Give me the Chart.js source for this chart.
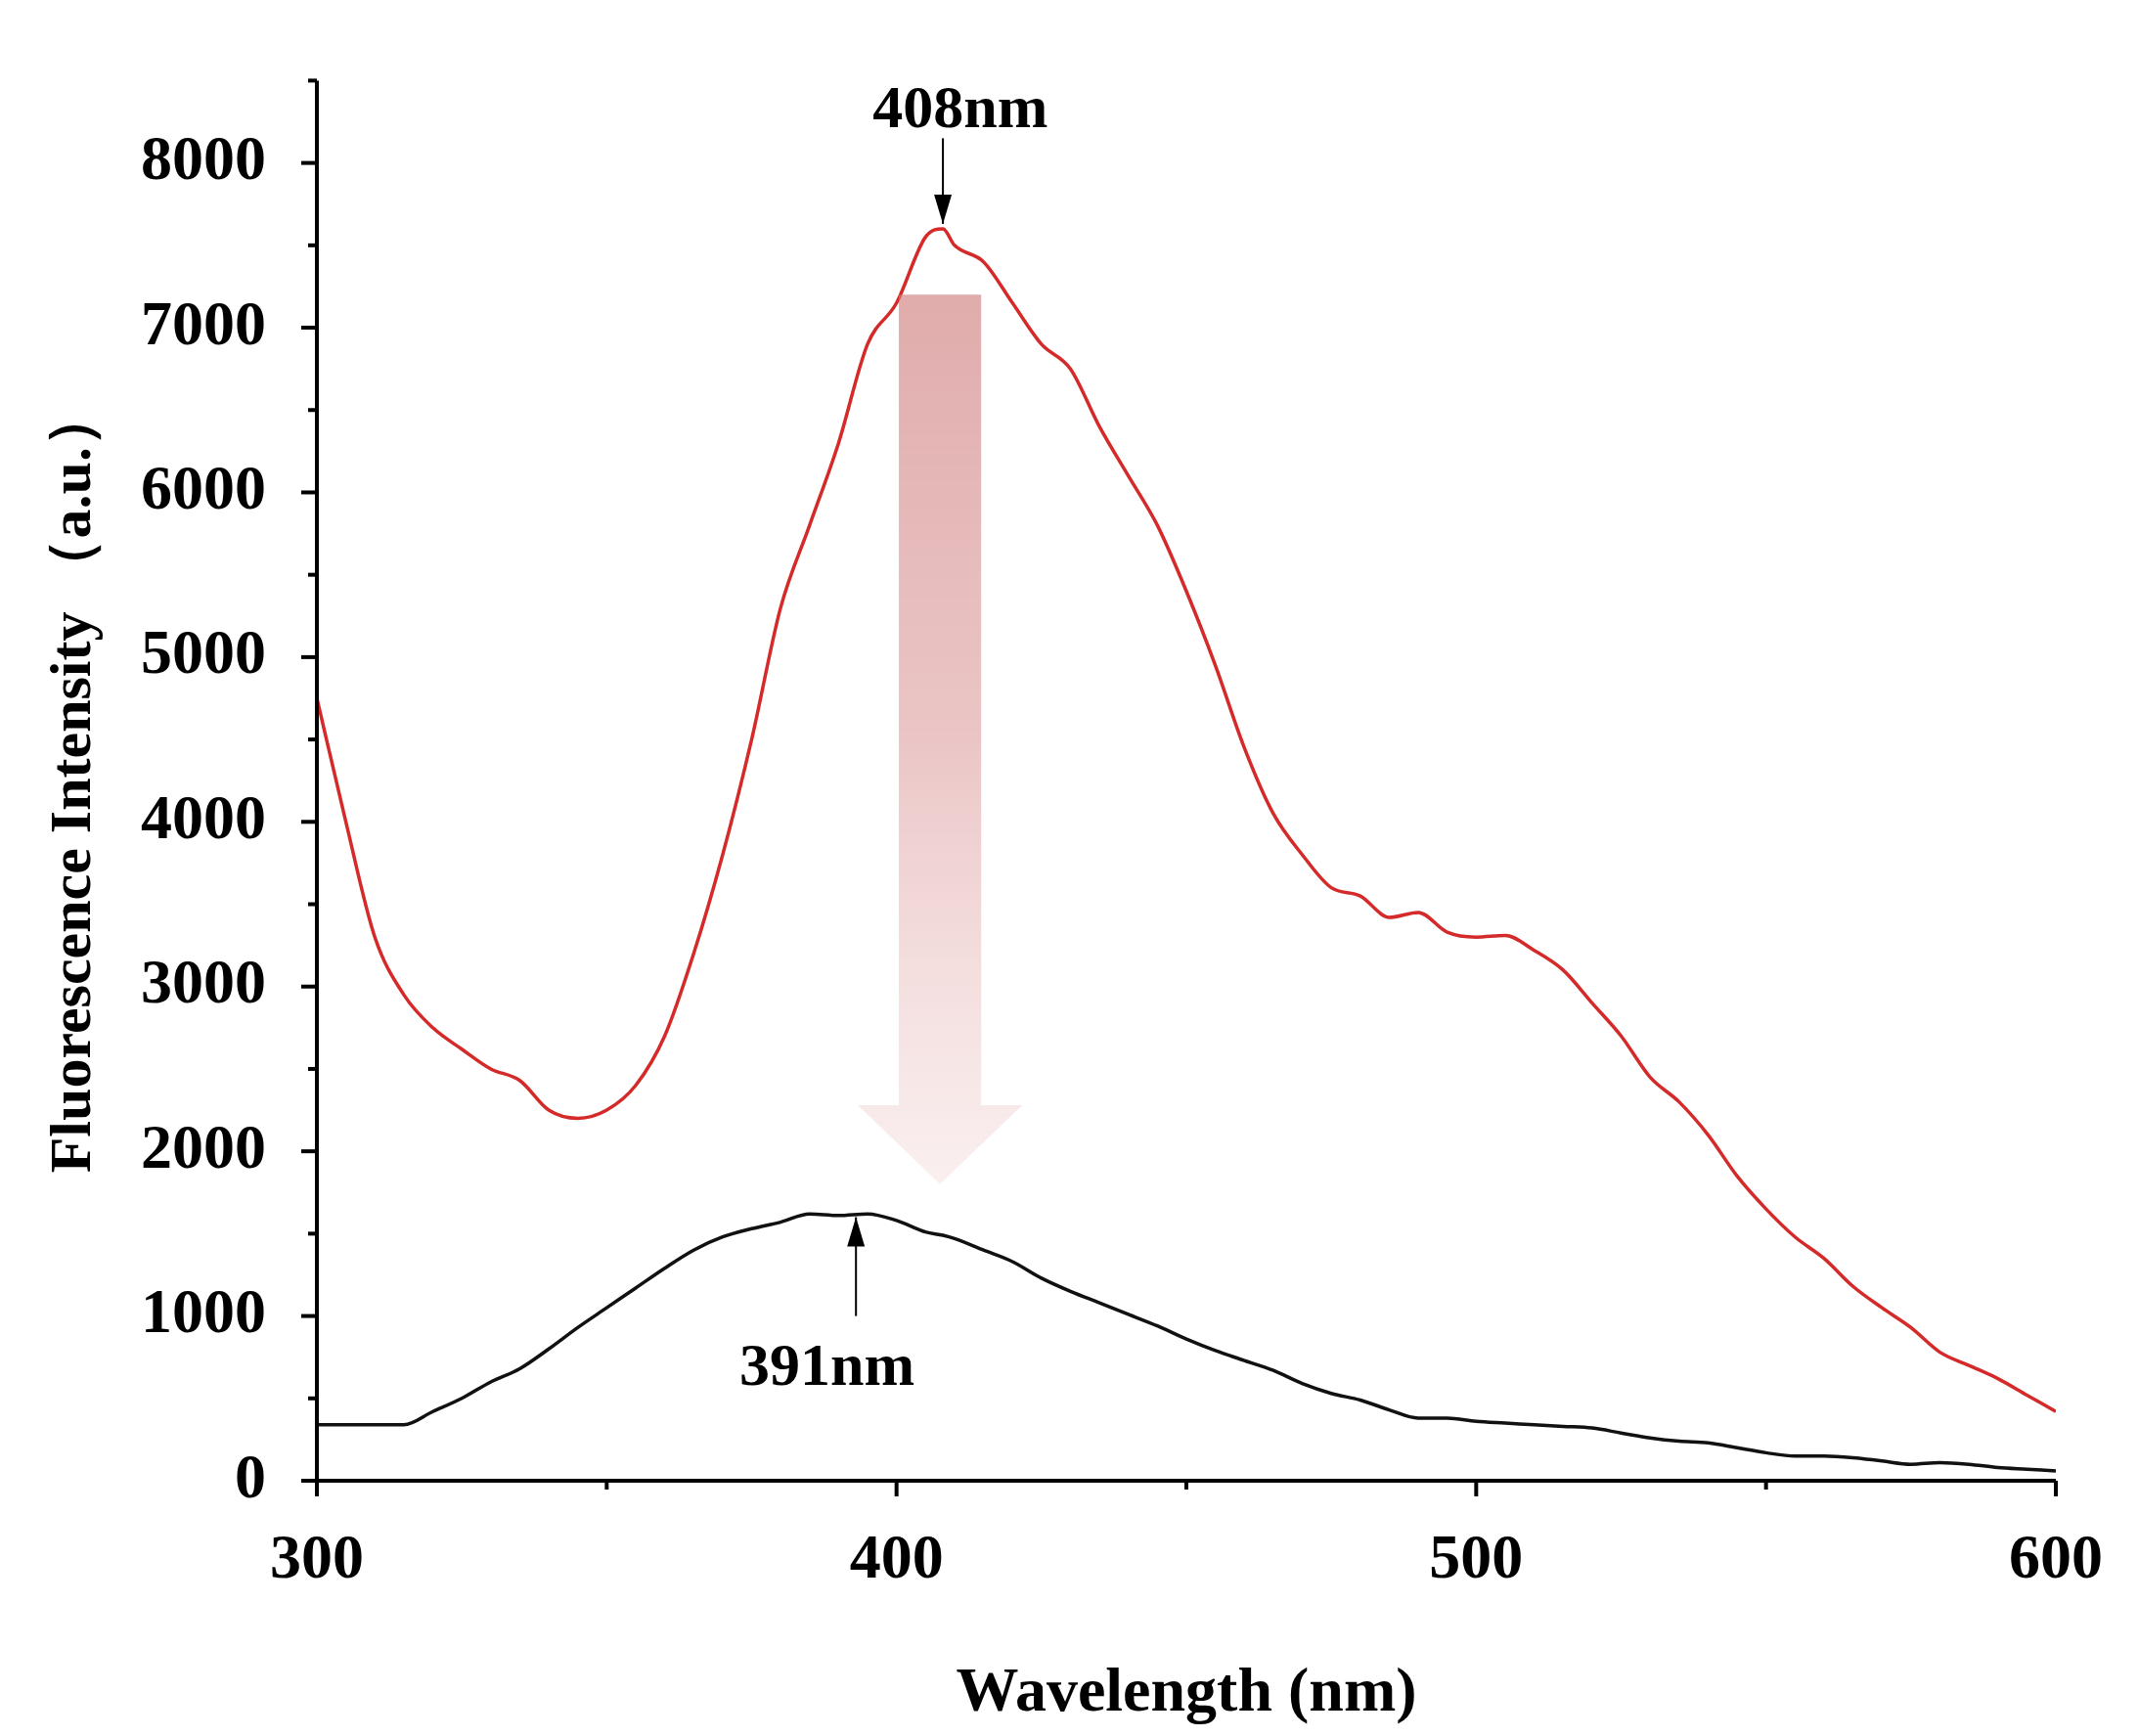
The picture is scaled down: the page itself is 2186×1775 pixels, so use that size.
<!DOCTYPE html>
<html><head><meta charset="utf-8">
<script src="https://cdn.jsdelivr.net/npm/chart.js@4"></script>
<style>html,body{margin:0;padding:0;background:#fff}#wrap{width:2186px;height:1775px}</style>
</head><body><div id="wrap"><canvas id="c"></canvas></div>
<script>
const wavelengths=[300,305,310,315,320,325,330,335,340,345,350,355,360,365,370,375,380,385,390,395,400,405,408,410,415,420,425,430,435,440,445,450,455,460,465,470,475,480,485,490,495,500,505,510,515,520,525,530,535,540,545,550,555,560,565,570,575,580,585,590,595,600];
const redSeries=[4750,4000,3300,2950,2750,2620,2500,2430,2250,2200,2250,2400,2700,3200,3800,4500,5300,5800,6300,6900,7150,7550,7600,7500,7400,7150,6900,6750,6400,6100,5800,5400,4950,4450,4050,3800,3600,3550,3420,3450,3330,3300,3310,3220,3100,2900,2700,2450,2300,2100,1850,1650,1480,1350,1180,1050,930,780,700,620,520,420];
const blackSeries=[340,340,340,340,420,500,600,680,800,930,1050,1170,1290,1400,1480,1530,1570,1620,1610,1620,1580,1510,1490,1470,1400,1330,1230,1150,1080,1010,940,860,790,730,670,590,530,490,430,380,380,360,350,340,330,320,290,260,240,230,200,170,150,150,140,120,100,110,100,80,70,60];
const xTicks=[300,400,500,600];
const yTicks=[0,1000,2000,3000,4000,5000,6000,7000,8000];

const FONT='"Liberation Serif","Times New Roman",serif';
const pts=a=>wavelengths.map((x,i)=>({x,y:a[i]}));

const deco={id:'deco',afterDraw(ch){
  const c=ch.ctx,xs=ch.scales.x,ys=ch.scales.y,a=ch.chartArea;
  const X=v=>xs.getPixelForValue(v),Y=v=>ys.getPixelForValue(v);
  c.save();
  const g=c.createLinearGradient(0,Y(7200),0,Y(1800));
  g.addColorStop(0,'rgba(205,120,120,0.62)');
  g.addColorStop(0.5,'rgba(215,140,140,0.5)');
  g.addColorStop(1,'rgba(235,190,190,0.25)');
  c.fillStyle=g;c.beginPath();
  c.moveTo(X(400.4),Y(7200));c.lineTo(X(414.6),Y(7200));c.lineTo(X(414.6),Y(2280));
  c.lineTo(X(421.7),Y(2280));c.lineTo(X(407.5),Y(1800));c.lineTo(X(393.3),Y(2280));
  c.lineTo(X(400.4),Y(2280));c.closePath();c.fill();
  c.strokeStyle='#000';c.lineWidth=4;
  c.beginPath();c.moveTo(a.left,a.top);c.lineTo(a.left,a.bottom);c.lineTo(a.right,a.bottom);c.stroke();
  for(let v=0;v<=8500;v+=500){const L=v%1000===0?16:9;c.beginPath();c.moveTo(a.left,Y(v));c.lineTo(a.left-L,Y(v));c.stroke();}
  for(let v=300;v<=600;v+=50){const L=v%100===0?16:9;c.beginPath();c.moveTo(X(v),a.bottom);c.lineTo(X(v),a.bottom+L);c.stroke();}
  c.lineWidth=2;c.fillStyle='#000';
  const arrow=(x,y0,y1)=>{c.beginPath();c.moveTo(x,y0);c.lineTo(x,y1);c.stroke();
    const d=y1>y0?1:-1;c.beginPath();c.moveTo(x,y1);c.lineTo(x-9,y1-d*30);c.lineTo(x+9,y1-d*30);c.closePath();c.fill();};
  arrow(X(408),Y(8150),Y(7630));
  arrow(X(393),Y(1000),Y(1600));
  c.font='bold 62px '+FONT;c.textAlign='center';c.textBaseline='alphabetic';
  c.fillText('408nm',X(411),Y(8220));
  c.fillText('391nm',X(388),Y(580));
  c.restore();
}};

new Chart(document.getElementById('c'),{
  type:'line',
  data:{datasets:[
    {data:pts(redSeries),borderColor:'#d42a2a',borderWidth:3.5,pointRadius:0,tension:0.4,cubicInterpolationMode:'monotone'},
    {data:pts(blackSeries),borderColor:'#111',borderWidth:3.5,pointRadius:0,tension:0.4,cubicInterpolationMode:'monotone'}
  ]},
  options:{responsive:true,maintainAspectRatio:false,animation:false,
    layout:{padding:{top:59,right:73,left:0,bottom:0}},
    plugins:{legend:{display:false},tooltip:{enabled:false}},
    scales:{
      x:{type:'linear',min:300,max:600,
        afterBuildTicks:s=>{s.ticks=xTicks.map(v=>({value:v}));},
        afterFit:s=>{s.height=261;},
        grid:{display:false},border:{display:false},
        ticks:{padding:36,color:'#000',font:{family:FONT,size:64,weight:'bold'},maxRotation:0,callback:v=>String(v)},
        title:{display:true,text:'Wavelength (nm)',color:'#000',font:{family:FONT,size:64,weight:'bold'},padding:{top:40}}},
      y:{min:0,max:8500,
        afterBuildTicks:s=>{s.ticks=yTicks.map(v=>({value:v}));},
        afterFit:s=>{s.width=324;},
        grid:{display:false},border:{display:false},
        ticks:{padding:44,color:'#000',font:{family:FONT,size:64,weight:'bold'},callback:v=>String(v)},
        title:{display:true,text:'Fluorescence Intensity （a.u.）',color:'#000',font:{family:FONT,size:60,weight:'bold'},padding:{top:40,bottom:0}}}
    }},
  plugins:[deco]
});
</script></body></html>
